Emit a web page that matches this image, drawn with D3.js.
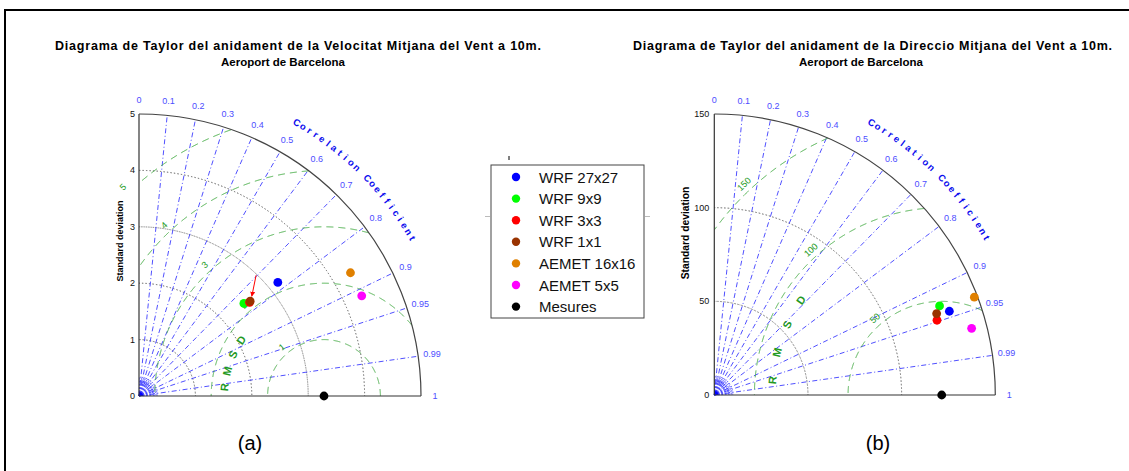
<!DOCTYPE html>
<html>
<head>
<meta charset="utf-8">
<script src="https://cdn.jsdelivr.net/npm/d3@7"></script>
<style>
  body { margin: 0; background: #fff; }
  svg { display: block; }
  text { font-family: "Liberation Sans", Arial, Helvetica, sans-serif; }
</style>
</head>
<body>
<svg id="fig" width="1129" height="471"></svg>
<script>
// ---- data ----
const seriesNames = ["WRF 27x27", "WRF 9x9", "WRF 3x3", "WRF 1x1", "AEMET 16x16", "AEMET 5x5", "Mesures"];

// (a) mean wind speed at 10 m: standard deviation and correlation with observations
const velStd  = [3.18, 2.48, 2.57, 2.59, 4.34, 4.33, 3.28];
const velCorr = [0.774, 0.750, 0.763, 0.761, 0.864, 0.912, 1.0];

// (b) mean wind direction at 10 m
const dirStd  = [133.2, 129.3, 125.4, 126.4, 148.3, 141.9, 121.4];
const dirCorr = [0.942, 0.930, 0.948, 0.939, 0.936, 0.968, 1.0];

const corrTicks = [0, 0.1, 0.2, 0.3, 0.4, 0.5, 0.6, 0.7, 0.8, 0.9, 0.95, 0.99, 1];
const velStdTicks = [0, 1, 2, 3, 4, 5];
const velStdGrid = [1, 2, 3, 4];
const velRmsTicks = [1, 2, 3, 4, 5];
const dirStdTicks = [0, 50, 100, 150];
const dirStdGrid = [50, 100];
const dirRmsTicks = [50, 100, 150];

const titleVel = ["Diagrama de Taylor del anidament de la Velocitat Mitjana del Vent a 10m.", "Aeroport de Barcelona"];
const titleDir = ["Diagrama de Taylor del anidament de la Direccio Mitjana del Vent a 10m.", "Aeroport de Barcelona"];

// ---- styles ----
const seriesColors = ["#0000ff", "#00ff00", "#ff0000", "#993300", "#e08000", "#ff00ff", "#000000"];
const drawOrder = [0, 1, 2, 3, 4, 5, 6];
const corrBlue = "#3c3cff";
const rmsGreen = "#45ad45";
const rmsTextGreen = "#229922";

const svg = d3.select("#fig");

// figure frame
svg.append("rect")
  .attr("x", 5).attr("y", 10).attr("width", 1140).attr("height", 480)
  .attr("fill", "none").attr("stroke", "#000").attr("stroke-width", 2);

function drawTaylor(cfg) {
  const g = svg.append("g").attr("transform", `translate(${cfg.ox},${cfg.oy})`);
  const maxS = d3.max(cfg.stdTicks);
  const r = d3.scaleLinear().domain([0, maxS]).range([0, cfg.R]);
  const R = cfg.R;
  const refStd = cfg.std[cfg.std.length - 1];
  const px = (s, c) => r(s * c);
  const py = (s, c) => -r(s * Math.sqrt(Math.max(0, 1 - c * c)));

  // standard deviation grid (dotted quarter circles)
  const quarter = d3.arc().startAngle(0).endAngle(Math.PI / 2);
  g.selectAll("path.sgrid").data(cfg.stdGrid).join("path")
    .attr("class", "sgrid")
    .attr("d", d => quarter({ innerRadius: r(d), outerRadius: r(d) }))
    .attr("fill", "none").attr("stroke", "#777").attr("stroke-width", 1)
    .attr("stroke-dasharray", "1,2.5");

  // correlation rays
  const rays = corrTicks.filter(c => c > 0 && c < 1);
  g.selectAll("line.ray").data(rays).join("line")
    .attr("class", "ray")
    .attr("x1", 0).attr("y1", 0)
    .attr("x2", c => R * c).attr("y2", c => -R * Math.sqrt(1 - c * c))
    .attr("stroke", corrBlue).attr("stroke-width", 0.9)
    .attr("stroke-dasharray", "5,2.5,1,2.5");

  // little polar rings at the origin
  const rings = [5, 8, 11, 14, 17];
  g.selectAll("path.ring").data(rings).join("path")
    .attr("class", "ring")
    .attr("d", d => quarter({ innerRadius: d, outerRadius: d }))
    .attr("fill", "none").attr("stroke", corrBlue).attr("stroke-width", 0.7)
    .attr("stroke-dasharray", "1,1.5");
  const spokes = d3.range(3, 90, 6);
  g.selectAll("line.spoke").data(spokes).join("line")
    .attr("class", "spoke")
    .attr("x1", 0).attr("y1", 0)
    .attr("x2", a => 19 * Math.cos(a * Math.PI / 180))
    .attr("y2", a => -19 * Math.sin(a * Math.PI / 180))
    .attr("stroke", corrBlue).attr("stroke-width", 0.7)
    .attr("stroke-dasharray", "2,1.5");
  g.append("path")
    .attr("d", d3.arc()({ innerRadius: 0, outerRadius: 4, startAngle: 0, endAngle: Math.PI / 2 }))
    .attr("fill", "#0000ff");

  // centred RMS difference arcs around the reference point
  const line = d3.line().x(d => d[0]).y(d => d[1]);
  cfg.rmsTicks.forEach(rr => {
    const pts = [];
    const n = 1440;
    for (let i = 0; i <= n; i++) {
      const t = Math.PI * i / n;
      const x = refStd + rr * Math.cos(t);
      const y = rr * Math.sin(t);
      if (x >= 0 && x * x + y * y <= maxS * maxS * 1.0001) pts.push([r(x), -r(y)]);
    }
    g.append("path").attr("d", line(pts))
      .attr("fill", "none").attr("stroke", rmsGreen).attr("stroke-width", 1)
      .attr("stroke-dasharray", "7,5");
  });

  // RMS arc labels
  cfg.rmsTicks.forEach(rr => {
    const deg = 129.8 + 2.7 * rr / refStd;
    const a = deg * Math.PI / 180;
    const rp = r(rr) + 8;
    const x = r(refStd) + rp * Math.cos(a);
    const y = -rp * Math.sin(a);
    g.append("text")
      .attr("transform", `translate(${x},${y}) rotate(${90 - deg})`)
      .attr("text-anchor", "middle").attr("dominant-baseline", "central")
      .attr("font-size", 9).attr("fill", rmsTextGreen)
      .text(rr);
  });

  // "R M S D" letters along an arc around the reference
  const rmsdLetters = ["R", "M", "S", "D"];
  const rmsdAngles = [175, 165.5, 155.5, 146];
  rmsdLetters.forEach((ch, i) => {
    const a = rmsdAngles[i] * Math.PI / 180;
    const x = r(refStd) + cfg.rmsdRadius * Math.cos(a);
    const y = -cfg.rmsdRadius * Math.sin(a);
    g.append("text")
      .attr("transform", `translate(${x},${y}) rotate(${90 - rmsdAngles[i]})`)
      .attr("text-anchor", "middle").attr("dominant-baseline", "central")
      .attr("font-size", 11).attr("font-weight", "bold").attr("fill", rmsTextGreen)
      .text(ch);
  });

  // axes and outer boundary
  g.append("line").attr("x1", 0).attr("y1", 0).attr("x2", 0).attr("y2", -R)
    .attr("stroke", "#333").attr("stroke-width", 1.2);
  g.append("line").attr("x1", 0).attr("y1", 0).attr("x2", R).attr("y2", 0)
    .attr("stroke", "#333").attr("stroke-width", 1.2);
  g.append("path").attr("d", quarter({ innerRadius: R, outerRadius: R }))
    .attr("fill", "none").attr("stroke", "#444").attr("stroke-width", 1.2);

  // standard deviation tick labels
  g.selectAll("text.stick").data(cfg.stdTicks).join("text")
    .attr("class", "stick")
    .attr("x", -cfg.tickGap).attr("y", d => -r(d))
    .attr("text-anchor", "end").attr("dominant-baseline", "central")
    .attr("font-size", 9).attr("fill", "#111")
    .text(d => d);

  g.append("text")
    .attr("transform", `translate(${cfg.ylabX},${cfg.ylabY}) rotate(-90)`)
    .attr("text-anchor", "middle").attr("dominant-baseline", "central")
    .attr("font-size", cfg.ylabSize).attr("font-weight", "bold").attr("fill", "#000")
    .text("Standard deviation");

  // correlation tick labels
  g.selectAll("text.ctick").data(corrTicks).join("text")
    .attr("class", "ctick")
    .attr("x", c => 1.05 * R * c)
    .attr("y", c => -1.05 * R * Math.sqrt(1 - c * c))
    .attr("text-anchor", "middle").attr("dominant-baseline", "central")
    .attr("font-size", 9).attr("fill", "#4d4dff")
    .text(c => String(c));

  // curved axis title
  const title = "Correlation Coefficient".split("");
  const a0 = 60, a1 = 30;
  title.forEach((ch, i) => {
    const deg = a0 + (a1 - a0) * i / (title.length - 1);
    const a = deg * Math.PI / 180;
    const rt = 1.12 * R;
    g.append("text")
      .attr("transform", `translate(${rt * Math.cos(a)},${-rt * Math.sin(a)}) rotate(${90 - deg})`)
      .attr("text-anchor", "middle").attr("dominant-baseline", "central")
      .attr("font-size", 9.5).attr("font-weight", "bold").attr("fill", "#0a0aee")
      .text(ch);
  });

  // model and observation points
  drawOrder.forEach(i => {
    g.append("circle")
      .attr("cx", px(cfg.std[i], cfg.corr[i]))
      .attr("cy", py(cfg.std[i], cfg.corr[i]))
      .attr("r", 4.4)
      .attr("fill", seriesColors[i]);
  });

  // titles
  svg.append("text")
    .attr("x", cfg.titleX[0]).attr("y", 49.5)
    .attr("text-anchor", "middle")
    .attr("font-size", 12.5).attr("font-weight", "bold").attr("fill", "#000")
    .attr("textLength", cfg.titleW).attr("lengthAdjust", "spacing")
    .text(cfg.title[0]);
  svg.append("text")
    .attr("x", cfg.titleX[1]).attr("y", 65.5)
    .attr("text-anchor", "middle")
    .attr("font-size", 11.5).attr("font-weight", "bold").attr("fill", "#000")
    .text(cfg.title[1]);

  svg.append("text")
    .attr("x", cfg.tagX).attr("y", 450)
    .attr("text-anchor", "middle").attr("font-size", 20).attr("fill", "#000")
    .text(cfg.tag);

  return { g, px, py };
}

const A = drawTaylor({
  ox: 139, oy: 396, R: 282,
  std: velStd, corr: velCorr,
  stdTicks: velStdTicks, stdGrid: velStdGrid, rmsTicks: velRmsTicks,
  rmsdRadius: 100,
  tickGap: 4, ylabX: -19, ylabY: -155, ylabSize: 9,
  title: titleVel, titleX: [298, 283], titleW: 486, tag: "(a)", tagX: 250
});

drawTaylor({
  ox: 714.3, oy: 395, R: 281,
  std: dirStd, corr: dirCorr,
  stdTicks: dirStdTicks, stdGrid: dirStdGrid, rmsTicks: dirRmsTicks,
  rmsdRadius: 170,
  tickGap: 5, ylabX: -29, ylabY: -162, ylabSize: 10.3,
  title: titleDir, titleX: [872.5, 861], titleW: 479, tag: "(b)", tagX: 878
});

// arrow pointing at the hidden WRF 3x3 marker in (a)
{
  const rx = 139 + A.px(velStd[2], velCorr[2]);
  const ry = 396 + A.py(velStd[2], velCorr[2]);
  const defs = svg.append("defs");
  defs.append("marker").attr("id", "arrowRed")
    .attr("viewBox", "0 0 10 10").attr("refX", 9).attr("refY", 5)
    .attr("markerWidth", 5).attr("markerHeight", 5).attr("orient", "auto")
    .append("path").attr("d", "M0,0 L10,5 L0,10 z").attr("fill", "#ff0000");
  svg.append("line")
    .attr("x1", rx + 6.5).attr("y1", ry - 27)
    .attr("x2", rx + 2.2).attr("y2", ry - 6)
    .attr("stroke", "#ff0000").attr("stroke-width", 1)
    .attr("marker-end", "url(#arrowRed)");
}

// legend
{
  const lg = svg.append("g");
  lg.append("rect").attr("x", 491).attr("y", 165).attr("width", 153).attr("height", 153)
    .attr("fill", "#fff").attr("stroke", "#444").attr("stroke-width", 1);
  lg.append("line").attr("x1", 509).attr("y1", 156).attr("x2", 509).attr("y2", 160)
    .attr("stroke", "#000").attr("stroke-width", 1);
  lg.append("line").attr("x1", 485).attr("y1", 216.5).attr("x2", 490).attr("y2", 216.5)
    .attr("stroke", "#bbb").attr("stroke-width", 1);
  lg.append("line").attr("x1", 645).attr("y1", 216.5).attr("x2", 650).attr("y2", 216.5)
    .attr("stroke", "#bbb").attr("stroke-width", 1);
  const rows = lg.selectAll("g.row").data(seriesNames).join("g")
    .attr("class", "row")
    .attr("transform", (d, i) => `translate(516,${177 + 21.6 * i})`);
  rows.append("circle").attr("r", 4.2).attr("fill", (d, i) => seriesColors[i]);
  rows.append("text").attr("x", 23).attr("dominant-baseline", "central")
    .attr("font-size", 15).attr("fill", "#111").text(d => d);
}
</script>
</body>
</html>
